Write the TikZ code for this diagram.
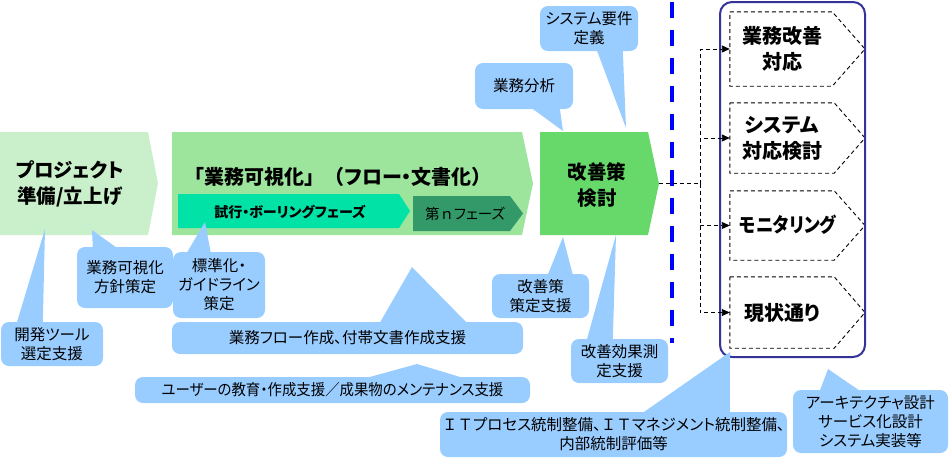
\documentclass[tikz,border=0pt]{standalone}
\usepackage{graphicx}
\usepackage{fontspec}
\setmainfont{Noto Sans CJK JP}[RawFeature=+palt]
\newfontfamily\fixedjp{Noto Sans CJK JP}
\usetikzlibrary{calc,arrows.meta}
\definecolor{prepgreen}{HTML}{C9F0CB}
\definecolor{visgreen}{HTML}{9DE49D}
\definecolor{kzgreen}{HTML}{66D96A}
\definecolor{trialgreen}{HTML}{00E2A6}
\definecolor{phasegreen}{HTML}{339968}
\definecolor{tipblue}{HTML}{99CCFF}
\definecolor{framenavy}{HTML}{333399}
\def\pointer(#1)(#2)(#3)(#4){\fill[tipblue] ($(#1)+(#2)$) -- (#4) -- ($(#1)+(#3)$) -- cycle;}

\begin{document}
\begin{tikzpicture}[x=1pt,y=-1pt,
	bubble/.style={fill=tipblue,rounded corners=8pt,inner sep=0pt,align=center,font=\fontsize{15.5}{19}\selectfont},
	stage/.style={inner sep=0pt,align=center,font=\bfseries\fontsize{19.5}{26}\selectfont},
	choice/.style={inner sep=0pt,align=center,font=\bfseries\fontsize{20}{26}\selectfont},
	flowline/.style={line width=0.9pt,dash pattern=on 4pt off 3pt}]
			\useasboundingbox (0,0) rectangle (950,463);
			%%%%% STAGES %%%%%
			
			\fill[prepgreen] (0,132) -- (148,132) -- (158,183.5) -- (148,235) -- (0,235) -- cycle;
			\node[stage] (prep) at (70,184) {プロジェクト\\準備/立上げ};
			
			\fill[visgreen] (172,132) -- (522,132) -- (533,183.5) -- (522,235) -- (172,235) -- cycle;
			\node[stage,font=\bfseries\fontsize{20}{26}\selectfont] (vis) at (343,177) {「業務可視化{\fixedjp 」（}フロー・文書化{\fixedjp ）}};
			\fill[trialgreen] (178,194) -- (399,194) -- (410,211) -- (399,228) -- (178,228) -- cycle;
			\node[inner sep=0pt,font=\bfseries\fontsize{14}{17}\selectfont] (trial) at (290,212) {試行・ボーリングフェーズ};
			\fill[phasegreen] (413,196) -- (510,196) -- (523,213.5) -- (510,231) -- (413,231) -- cycle;
			\node[inner sep=0pt,font=\fontsize{14.5}{17}\selectfont] (nth) at (465,214) {第{\fixedjp ｎ}フェーズ};
			
			\fill[kzgreen] (540,132) -- (648,132) -- (659,183.5) -- (648,235) -- (540,235) -- cycle;
			\node[stage] (kaizen) at (597,185) {改善策\\検討};
			\coordinate (kztip) at (659,183.5);
			
			\draw[blue,line width=4.5pt,dash pattern=on 16pt off 12pt] (672,2) -- (672,343);
			
			%%%%% OPTIONS %%%%%
			
			\node[minimum width=102pt,minimum height=74pt] (opt1) at (781,49) {};
			\node[minimum width=104pt,minimum height=70pt] (opt2) at (782,138) {};
			\node[minimum width=104pt,minimum height=69pt] (opt3) at (782,225.5) {};
			\node[minimum width=104pt,minimum height=71pt] (opt4) at (782,312.5) {};
			\node[choice] (opt1label) at (782,49) {業務改善\\対応};
			\node[choice] (opt2label) at (782,138) {システム\\対応検討};
			\node[choice] (opt3label) at (788,225) {\scalebox{0.87}[1]{モニタリング}};
			\node[choice] (opt4label) at (782,313) {現状通り};
			\draw[flowline] (opt1.north west) -- (opt1.north east) -- (865,49) -- (opt1.south east) -- (opt1.south west) -- cycle;
			\draw[flowline] (opt2.north west) -- (opt2.north east) -- (865,138) -- (opt2.south east) -- (opt2.south west) -- cycle;
			\draw[flowline] (opt3.north west) -- (opt3.north east) -- (865,225.5) -- (opt3.south east) -- (opt3.south west) -- cycle;
			\draw[flowline] (opt4.north west) -- (opt4.north east) -- (865,312.5) -- (opt4.south east) -- (opt4.south west) -- cycle;
			\node[draw=framenavy,line width=2pt,rounded corners=12pt,minimum width=145pt,minimum height=355pt] (frame) at (792.5,179.5) {};
			
			\coordinate (fork) at (700,183.5);
			\draw[flowline] (kztip) -- (fork);
			\draw[flowline,-{Triangle[length=8pt,width=7pt]}] (fork) |- (opt1.west);
			\draw[flowline,-{Triangle[length=8pt,width=7pt]}] (fork) |- (opt2.west);
			\draw[flowline,-{Triangle[length=8pt,width=7pt]}] (fork) |- (opt3.west);
			\draw[flowline,-{Triangle[length=8pt,width=7pt]}] (fork) |- (opt4.west);
			
			%%%%% CALLOUTS %%%%%
			
			\node[bubble,minimum width=98pt,minimum height=45pt] (sysreq) at (589,28.5) {システム要件\\定義};
			\pointer(sysreq.south west)(57,-1)(83,-1)(626,128);
			\node[bubble,minimum width=98pt,minimum height=46pt] (analysis) at (524,86) {業務分析};
			\pointer(analysis.south west)(57,-1)(85,-1)(563,131);
			\node[bubble,minimum width=96pt,minimum height=61pt] (policy) at (125,277.5) {業務可視化\\方針策定};
			\pointer(policy.north west)(16,1)(40,1)(92,230);
			\node[bubble,minimum width=102pt,minimum height=44pt] (tool) at (52,344) {開発ツール\\選定支援};
			\pointer(tool.north west)(16,1)(42,1)(45,229);
			\node[bubble,minimum width=92pt,minimum height=66pt] (guide) at (219,285) {標準化・\\ガイドライン\\策定};
			\pointer(guide.north west)(14,1)(38,1)(205,222);
			\node[bubble,minimum width=351pt,minimum height=32pt] (flowdoc) at (347.5,338) {業務フロー作成、付帯文書作成支援};
			\pointer(flowdoc.north west)(208,1)(295,1)(412,267);
			\node[bubble,minimum width=395pt,minimum height=26pt] (training) at (332.5,390) {\scalebox{0.93}[1]{ユーザーの教育・作成支援／成果物のメンテナンス支援}};
			\pointer(training.north west)(232,1)(328,1)(417,364);
			\node[bubble,minimum width=97pt,minimum height=44pt] (planhelp) at (540.5,296) {改善策\\策定支援};
			\pointer(planhelp.north west)(56,1)(81,1)(563,237);
			\node[bubble,minimum width=97pt,minimum height=44pt] (effect) at (619.5,361) {改善効果測\\定支援};
			\pointer(effect.north west)(16,1)(42,1)(616,235);
			\node[bubble,minimum width=347pt,minimum height=45pt] (itgov) at (613.5,434.5) {{\fixedjp ＩＴ}プロセス統制整備、{\fixedjp ＩＴ}マネジメント統制整備、\\内部統制評価等};
			\pointer(itgov.north west)(203,1)(290,1)(730,352);
			\node[bubble,minimum width=155pt,minimum height=63pt] (arch) at (870.5,421.5) {アーキテクチャ設計\\サービス化設計\\システム実装等};
			\pointer(arch.north west)(27,1)(67,1)(828,369);
			
			%%%%% END %%%%%
\end{tikzpicture}
\end{document}
